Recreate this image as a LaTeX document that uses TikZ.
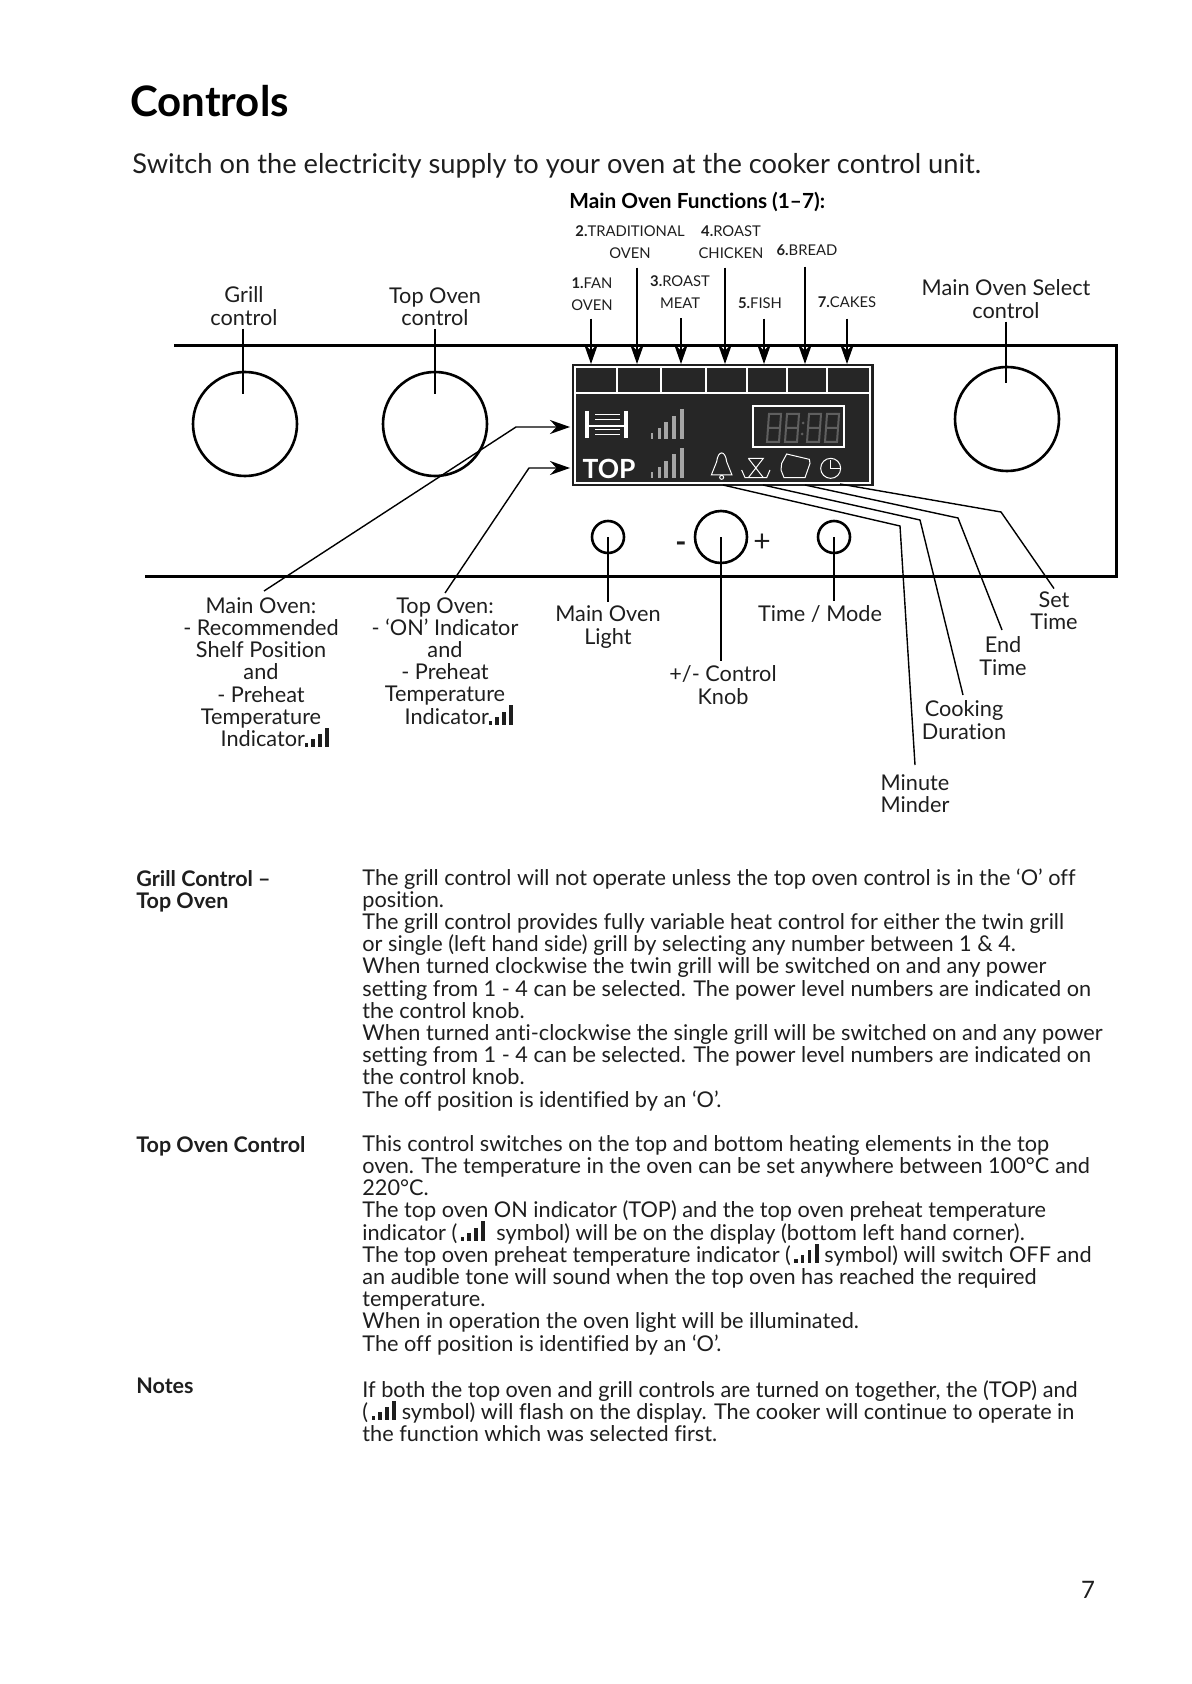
\documentclass[tikz,border=0pt]{standalone}
\usepackage{fontspec}
\setmainfont[Ligatures={NoCommon,NoContextual}]{Lato}
\usepackage{tikz}
\usetikzlibrary{arrows.meta,positioning,calc}
\definecolor{lcdgrey}{RGB}{38,38,38}
\definecolor{barsgrey}{RGB}{165,165,165}
\definecolor{seggrey}{RGB}{95,95,95}
\definecolor{inkgrey}{RGB}{30,30,30}
\newcommand{\levelbars}{\smash{\raisebox{-0.2pt}{\rule{1.6pt}{1.8pt}\hspace{1.6pt}\rule{1.8pt}{3.7pt}\hspace{1.6pt}\rule{1.8pt}{6.4pt}\hspace{1.8pt}\rule{2pt}{9.6pt}}}}
\tikzset{
  calltext/.style={text=inkgrey, font=\fontsize{10.85}{11.1}\selectfont, align=center, inner sep=0pt},
  fntext/.style={text=inkgrey, font=\fontsize{7.4}{11}\selectfont, align=center, inner sep=0pt},
  bodytext/.style={text=inkgrey, font=\fontsize{10.85}{11.1}\selectfont, align=left, anchor=north west, inner sep=0pt},
  headtext/.style={bodytext, font=\fontsize{10.75}{11.1}\selectfont\bfseries},
  knob/.style={draw, circle, line width=1.3pt, inner sep=0pt},
  callout/.style={draw, line width=0.7pt},
  fnarrow/.style={draw, line width=0.7pt, -{Stealth[length=10pt,width=7pt]}},
  fnarrowthick/.style={fnarrow, line width=1pt},
  frameline/.style={draw, line width=1.5pt},
  lcdline/.style={draw=white, line width=0.8pt},
  lcdthin/.style={draw=white, line width=0.5pt},
  lcdseg/.style={draw=seggrey, line width=1pt},
}
\begin{document}
\begin{tikzpicture}[x=0.5pt,y=-0.5pt]
  \useasboundingbox (0,0) rectangle (1191,1684);

  % heading
  \node[anchor=base west, inner sep=0pt, font=\fontsize{21}{24}\selectfont\bfseries] (title) at (130,117) {Controls};
  \node[anchor=base west, inner sep=0pt, text=inkgrey, font=\fontsize{13.63}{16}\selectfont] (intro) at (132,174)
    {Switch on the electricity supply to your oven at the cooker control unit.};
  \node[anchor=base west, inner sep=0pt, font=\fontsize{10.4}{12}\selectfont\bfseries] (mainfn) at (569,209)
    {Main Oven Functions (1--7):};

  % control panel outline
  \draw[frameline] (174,346) -- (1116,346) -- (1116,576) -- (145,576);

  % knobs
  \node[knob, minimum size=52pt] (grillknob) at (245,424) {};
  \node[knob, minimum size=52pt] (topknob) at (435,424) {};
  \node[knob, minimum size=52pt] (selectknob) at (1007,419) {};
  \node[knob, minimum size=16pt] (lightknob) at (608,537) {};
  \node[knob, minimum size=16pt] (timeknob) at (834,537) {};
  \node[knob, minimum size=26pt] (plusknob) at (721,537) {};
  \node[calltext, font=\fontsize{15}{15}\selectfont\bfseries] (minus) at (681,547) {-};
  \node[calltext, font=\fontsize{15}{15}\selectfont] (plus) at (762,543) {+};

  % display
  \node[draw=inkgrey, fill=lcdgrey, line width=0.6pt, minimum width=150pt, minimum height=60pt, inner sep=0pt] (lcd) at (723,425) {};
  \draw[lcdline] (575,367) rectangle (870,483);
  \draw[lcdline] (575,393) -- (870,393);
  \foreach \segx in {617,661,706,747,787,827}
    \draw[lcdline] (\segx,367) -- (\segx,393);
  \draw[lcdline] (753,406) rectangle (844,447);
  \foreach \digx in {767,785,807,825}
    \draw[lcdseg] (\digx+2,414) -- (\digx+14,414) -- (\digx+13,428) -- (\digx+1,428) -- cycle
                  (\digx+1,428) -- (\digx+13,428) -- (\digx+12,442) -- (\digx,442) -- cycle;
  \fill[seggrey] (803,423) circle (1.5) (802,434) circle (1.5);
  \draw[draw=white, line width=1.7pt] (587,411) -- (587,438) (626,411) -- (626,438);
  \draw[lcdline] (587,426) -- (626,426);
  \draw[lcdthin] (595,415) -- (620,415) (595,420) -- (620,420) (595,430) -- (620,430) (595,435) -- (620,435);
  \foreach \barx/\bara/\barb/\barw in {652/433/472/1.4,659/428/467/1.5,666/422/461/1.6,674/416/454/1.7,682/409/448/1.8}{
    \draw[draw=barsgrey, line width=\barw pt] (\barx,\bara) -- (\barx,439);
    \draw[draw=barsgrey, line width=\barw pt] (\barx,\barb) -- (\barx,478);
  }
  \node[inner sep=0pt, text=white, font=\fontsize{13.2}{14}\selectfont\bfseries] (toptext) at (609,469) {TOP};
  \begin{scope}[shift={(560,350)}, scale=1/3]
    \draw[lcdthin] (454,375) -- (470,335) .. controls (474,300) and (496,300) .. (500,335) -- (516,375) -- cycle;
    \draw[lcdthin] (485,382) circle (6);
    \draw[lcdthin] (565,325) -- (610,325) -- (565,383) (565,325) -- (610,383);
    \draw[lcdthin] (545,360) -- (555,383) -- (620,383) -- (630,360);
    \draw[lcdthin] (680,312) -- (748,328) -- (750,340) -- (735,383) -- (672,383) -- (663,360) -- (665,340) -- cycle;
    \draw[lcdthin] (812,355) circle (30);
    \draw[lcdthin] (812,330) -- (812,355) -- (840,355);
  \end{scope}

  % function labels and arrows
  \node[fntext, anchor=base] (fanlabel) at (592,311) {\textbf{1.}FAN\\OVEN};
  \node[fntext, anchor=base] (tradlabel) at (630,259) {\textbf{2.}TRADITIONAL\\OVEN};
  \node[fntext, anchor=base] (meatlabel) at (680,309) {\textbf{3.}ROAST\\MEAT};
  \node[fntext, anchor=base] (chickenlabel) at (731,259) {\textbf{4.}ROAST\\CHICKEN};
  \node[fntext, anchor=base] (fishlabel) at (760,309) {\textbf{5.}FISH};
  \node[fntext, anchor=base] (breadlabel) at (807,256) {\textbf{6.}BREAD};
  \node[fntext, anchor=base] (cakeslabel) at (847,308) {\textbf{7.}CAKES};
  \coordinate (fn1) at (591,364);
  \coordinate (fn2) at (637,364);
  \coordinate (fn3) at (681,364);
  \coordinate (fn4) at (725,364);
  \coordinate (fn5) at (764,364);
  \coordinate (fn6) at (805,364);
  \coordinate (fn7) at (847,364);
  \draw[fnarrow] (fn1 |- fanlabel.south) ++(0,7) -- (fn1);
  \draw[fnarrow] (fn2 |- tradlabel.south) ++(0,8) -- (fn2);
  \draw[fnarrow] (fn3 |- meatlabel.south) ++(0,9) -- (fn3);
  \draw[fnarrowthick] (fn4 |- chickenlabel.south) ++(0,8) -- (fn4);
  \draw[fnarrow] (fn5 |- fishlabel.south) ++(0,9) -- (fn5);
  \draw[fnarrowthick] (fn6 |- breadlabel.south) ++(0,10) -- (fn6);
  \draw[fnarrow] (fn7 |- cakeslabel.south) ++(0,10) -- (fn7);

  % knob labels
  \node[calltext] (grilllabel) at (244,306) {Grill\\control};
  \node[calltext] (toplabel) at (435,307) {Top Oven\\control};
  \node[calltext] (selectlabel) at (1006,299) {Main Oven Select\\control};
  \coordinate (grillend) at (243,394);
  \coordinate (topend) at (435,394);
  \coordinate (selectend) at (1006,383);
  \draw[callout] (grillend |- grilllabel.south) ++(0,3) -- (grillend);
  \draw[callout] (topend |- toplabel.south) ++(0,3) -- (topend);
  \draw[callout] (selectend |- selectlabel.south) ++(0,3) -- (selectend);

  % left hand display labels
  \node[calltext, anchor=north] (mainovenlabel) at (261,597)
    {Main Oven:\\- Recommended\\Shelf Position\\and\\- Preheat\\Temperature\\\hspace*{14pt}Indicator\levelbars};
  \node[calltext, anchor=north] (topovenlabel) at (445,597)
    {Top Oven:\\- ‘ON’ Indicator\\and\\- Preheat\\Temperature\\\hspace*{14pt}Indicator\levelbars};
  \coordinate (shelfend) at (570,427);
  \coordinate (topindend) at (570,468);
  \draw[fnarrow] (mainovenlabel.north) ++(3,-6) -- (516,427) -- (shelfend);
  \draw[fnarrow] (topovenlabel.north) ++(0,-4) -- (529,468) -- (topindend);

  % lower labels
  \node[calltext] (lightlabel) at (608,627) {Main Oven\\Light};
  \node[calltext] (timelabel) at (820,614) {Time / Mode};
  \node[calltext] (pluslabel) at (723,685) {+/- Control\\Knob};
  \node[calltext] (setlabel) at (1054,611) {Set\\Time};
  \node[calltext] (endlabel) at (1003,656) {End\\Time};
  \node[calltext] (durationlabel) at (964,720) {Cooking\\Duration};
  \node[calltext] (minderlabel) at (915,794) {Minute\\Minder};
  \draw[callout] (lightknob.center) -- ($(lightlabel.north)+(0,-4)$);
  \draw[callout] (timeknob.center) -- ($(timeknob.center |- timelabel.north)+(0,-4)$);
  \draw[callout] (plusknob.center) -- ($(plusknob.center |- pluslabel.north)+(0,-4)$);
  \coordinate (bell) at (723,485);
  \coordinate (glass) at (763,485);
  \coordinate (pan) at (805,485);
  \coordinate (clock) at (840,484);
  \draw[callout] (clock) -- (1001,512) -- ($(setlabel.north)+(0,-3)$);
  \draw[callout] (pan) -- (958,518) -- (1002,630);
  \draw[callout] (glass) -- (920,520) -- (963,695);
  \draw[callout] (bell) -- (900,526) -- (915,765);

  % instructions
  \node[headtext] (grillhead) at (136,870) {Grill Control --\\Top Oven};
  \node[bodytext] (grillbody) at (362,868) {The grill control will not operate unless the top oven control is in the ‘O’ off\\
    position.\\
    The grill control provides fully variable heat control for either the twin grill\\
    or single (left hand side) grill by selecting any number between 1 \& 4.\\
    When turned clockwise the twin grill will be switched on and any power\\
    setting from 1 - 4 can be selected. The power level numbers are indicated on\\
    the control knob.\\
    When turned anti-clockwise the single grill will be switched on and any power\\
    setting from 1 - 4 can be selected. The power level numbers are indicated on\\
    the control knob.\\
    The off position is identified by an ‘O’.};
  \node[headtext] (tophead) at (136,1136) {Top Oven Control};
  \node[bodytext] (topbody) at (362,1135) {This control switches on the top and bottom heating elements in the top\\
    oven. The temperature in the oven can be set anywhere between 100°C and\\
    220°C.\\
    The top oven ON indicator (TOP) and the top oven preheat temperature\\
    indicator (\,\levelbars\ \ symbol) will be on the display (bottom left hand corner).\\
    The top oven preheat temperature indicator (\,\levelbars\ symbol) will switch OFF and\\
    an audible tone will sound when the top oven has reached the required\\
    temperature.\\
    When in operation the oven light will be illuminated.\\
    The off position is identified by an ‘O’.};
  \node[headtext] (noteshead) at (136,1378) {Notes};
  \node[bodytext] (notesbody) at (362,1380) {If both the top oven and grill controls are turned on together, the (TOP) and\\
    (\,\levelbars\ symbol) will flash on the display. The cooker will continue to operate in\\
    the function which was selected first.};
  \node[calltext, font=\fontsize{12}{14}\selectfont] (pagenum) at (1088,1590) {7};
\end{tikzpicture}
\end{document}
